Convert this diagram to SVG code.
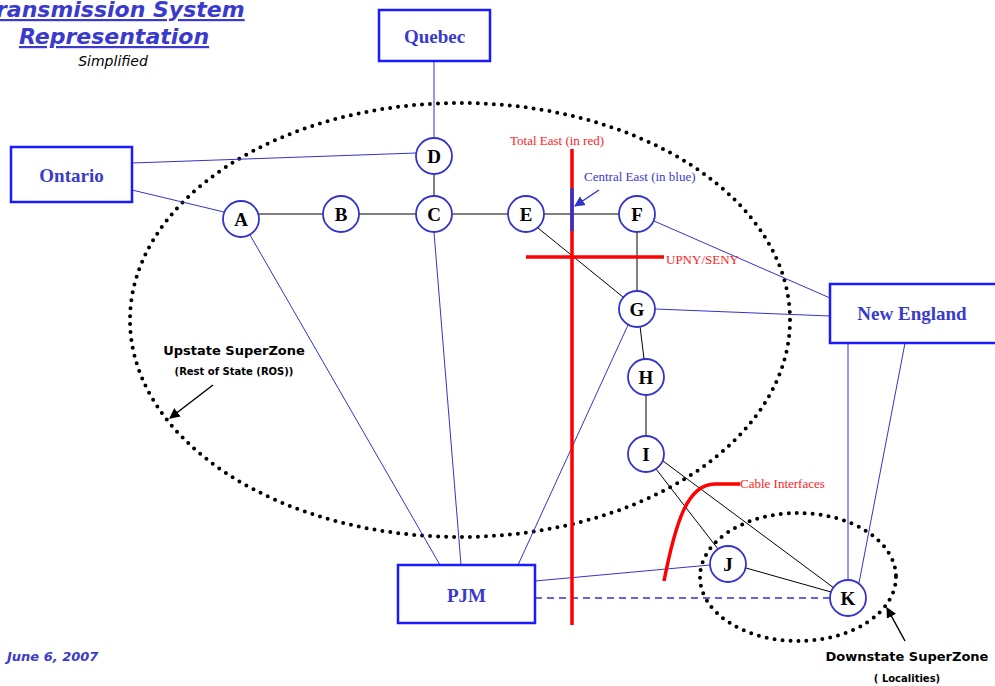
<svg xmlns="http://www.w3.org/2000/svg" width="995" height="686" viewBox="0 0 995 686">
<defs>
<style>
.box{fill:#fff;stroke:#1a1aff;stroke-width:2.5}
.btxt{font-family:"Liberation Serif",serif;font-weight:bold;font-size:19px;fill:#3a3acc;text-anchor:middle}
.node{fill:#fff;stroke:#3333cc;stroke-width:1.8}
.ntxt{font-family:"Liberation Serif",serif;font-weight:bold;font-size:19px;fill:#000;text-anchor:middle}
.bl{stroke:#3333cc;stroke-width:1;fill:none}
.bk{stroke:#000;stroke-width:1;fill:none}
.dot{fill:none;stroke:#000;stroke-width:4;stroke-linecap:round;stroke-dasharray:0 8}
.red{stroke:#ff0000;stroke-width:3.5;fill:none}
.rtxt{font-family:"Liberation Serif",serif;font-size:13px;fill:#ff2222}
.ztxt{font-family:"DejaVu Sans",sans-serif;font-weight:bold;fill:#000;text-anchor:middle}
.title{font-family:"DejaVu Sans",sans-serif;font-weight:bold;font-style:italic;font-size:22px;fill:#3a3acc;text-anchor:middle;text-decoration:underline}
</style>
<marker id="ab" viewBox="0 0 10 10" refX="9" refY="5" markerWidth="7" markerHeight="7" orient="auto"><path d="M0,0 L10,5 L0,10 z" fill="#000"/></marker>
<marker id="abb" viewBox="0 0 10 10" refX="9" refY="5" markerWidth="7" markerHeight="7" orient="auto"><path d="M0,0 L10,5 L0,10 z" fill="#3333cc"/></marker>
</defs>
<rect width="995" height="686" fill="#fff"/>
<g id="title">
<text class="title" x="114" y="17">Transmission System</text>
<text class="title" x="114" y="44">Representation</text>
<text x="113" y="66" font-family="DejaVu Sans,sans-serif" font-style="italic" font-size="14" fill="#000" text-anchor="middle">Simplified</text>
</g>
<g id="zones">
<ellipse class="dot" cx="460" cy="320" rx="330" ry="217"/>
<ellipse class="dot" cx="798" cy="577" rx="98" ry="64"/>
</g>
<g id="connectors">
<line class="bl" x1="434" y1="61" x2="434" y2="138"/>
<line class="bl" x1="132" y1="163" x2="416" y2="153"/>
<line class="bl" x1="132" y1="190" x2="224" y2="212"/>
<line class="bk" x1="259" y1="214" x2="619" y2="214"/>
<line class="bk" x1="434" y1="174" x2="434" y2="196"/>
<line class="bl" x1="434" y1="232" x2="461" y2="565"/>
<line class="bl" x1="250" y1="235" x2="440" y2="565"/>
<line class="bl" x1="628" y1="325" x2="518" y2="565"/>
<line class="bk" x1="538" y1="228" x2="623" y2="297"/>
<line class="bk" x1="637" y1="232" x2="637" y2="291"/>
<line class="bl" x1="654" y1="221" x2="830" y2="298"/>
<line class="bl" x1="655" y1="309" x2="830" y2="316"/>
<line class="bk" x1="640" y1="326" x2="644" y2="359"/>
<line class="bk" x1="646" y1="395" x2="646" y2="436"/>
<line class="bk" x1="656" y1="469" x2="718" y2="549"/>
<line class="bk" x1="663" y1="461" x2="834" y2="588"/>
<line class="bk" x1="746" y1="568" x2="831" y2="592"/>
<line class="bl" x1="848" y1="343" x2="848" y2="580"/>
<line class="bl" x1="905" y1="343" x2="859" y2="583"/>
<line class="bl" x1="535" y1="581" x2="710" y2="565"/>
<line x1="535" y1="598" x2="830" y2="598" stroke="#3333cc" stroke-dasharray="7 5" stroke-width="1.5"/>
</g>
<g id="interfaces">
<line class="red" x1="572" y1="149" x2="572" y2="625"/>
<line x1="572" y1="188" x2="572" y2="231" stroke="#3333cc" stroke-width="3.5"/>
<line x1="599" y1="190" x2="575" y2="206" stroke="#3333cc" stroke-width="1.5" marker-end="url(#abb)"/>
<line class="red" x1="526" y1="257" x2="664" y2="257"/>
<path class="red" d="M664,581 C676,520 688,484 715,484 L740,484"/>
<text class="rtxt" x="510" y="145">Total East (in red)</text>
<text x="584" y="181" font-family="Liberation Serif,serif" font-size="13" fill="#3a3acc">Central East (in blue)</text>
<text class="rtxt" x="666" y="264" font-size="11">UPNY/SENY</text>
<text class="rtxt" x="740" y="488">Cable Interfaces</text>
</g>
<g id="quebec"><rect class="box" x="379" y="10" width="111" height="51"/><text class="btxt" x="434.5" y="43">Quebec</text></g>
<g id="ontario"><rect class="box" x="11" y="147" width="121" height="55"/><text class="btxt" x="71.5" y="182">Ontario</text></g>
<g id="newengland"><rect class="box" x="830" y="284" width="167" height="59"/><text class="btxt" x="912" y="320">New England</text></g>
<g id="pjm"><rect class="box" x="398" y="565" width="137" height="58"/><text class="btxt" x="466.5" y="602">PJM</text></g>
<g id="nA"><circle class="node" cx="241" cy="219" r="18"/><text class="ntxt" x="241" y="226">A</text></g>
<g id="nB"><circle class="node" cx="341" cy="214" r="18"/><text class="ntxt" x="341" y="221">B</text></g>
<g id="nC"><circle class="node" cx="434" cy="214" r="18"/><text class="ntxt" x="434" y="221">C</text></g>
<g id="nD"><circle class="node" cx="434" cy="156" r="18"/><text class="ntxt" x="434" y="163">D</text></g>
<g id="nE"><circle class="node" cx="526" cy="214" r="18"/><text class="ntxt" x="526" y="221">E</text></g>
<g id="nF"><circle class="node" cx="637" cy="214" r="18"/><text class="ntxt" x="637" y="221">F</text></g>
<g id="nG"><circle class="node" cx="637" cy="309" r="18"/><text class="ntxt" x="637" y="316">G</text></g>
<g id="nH"><circle class="node" cx="646" cy="377" r="18"/><text class="ntxt" x="646" y="384">H</text></g>
<g id="nI"><circle class="node" cx="646" cy="454" r="18"/><text class="ntxt" x="646" y="461">I</text></g>
<g id="nJ"><circle class="node" cx="728" cy="564" r="18"/><text class="ntxt" x="728" y="571">J</text></g>
<g id="nK"><circle class="node" cx="848" cy="598" r="18"/><text class="ntxt" x="848" y="605">K</text></g>
<g id="labels">
<text class="ztxt" x="234" y="355" font-size="13">Upstate SuperZone</text>
<text class="ztxt" x="234" y="375" font-size="10">(Rest of State (ROS))</text>
<line x1="213" y1="385" x2="170" y2="418" stroke="#000" stroke-width="1.5" marker-end="url(#ab)"/>
<text class="ztxt" x="907" y="661" font-size="13">Downstate SuperZone</text>
<text class="ztxt" x="907" y="682" font-size="10">( Localities)</text>
<line x1="905" y1="641" x2="887" y2="608" stroke="#000" stroke-width="1.5" marker-end="url(#ab)"/>
<text x="7" y="661" font-family="DejaVu Sans,sans-serif" font-weight="bold" font-style="italic" font-size="13" fill="#3a3acc">June  6, 2007</text>
</g>
</svg>
